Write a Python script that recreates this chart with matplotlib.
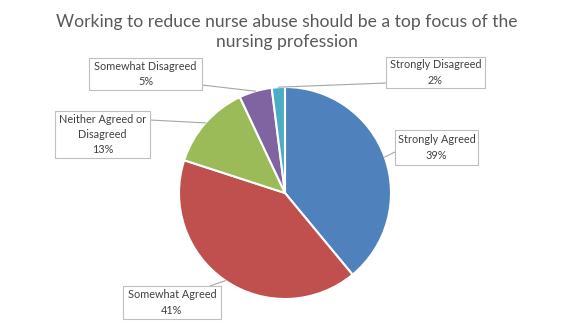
import matplotlib
matplotlib.use("Agg")
import matplotlib.pyplot as plt
from matplotlib.patches import Rectangle
import numpy as np

# ---- data ----
title = "Working to reduce nurse abuse should be a top focus of the\nnursing profession"
categories = ["Strongly Agreed", "Somewhat Agreed", "Neither Agreed or\nDisagreed",
              "Somewhat Disagreed", "Strongly Disagreed"]
values = [39, 41, 13, 5, 2]
colors = ["#4F81BD", "#C0504D", "#9BBB59", "#8064A2", "#4BACC6"]

# ---- layout (pixel coordinates, origin top-left) ----
W, H = 571, 331
cx, cy, R = 285, 193, 106
# boxes: (x0, y0, x1, y1)
boxes = [(395, 130, 478, 165),
         (123, 286, 221, 319),
         (55, 111, 150, 158),
         (89, 58, 202, 90),
         (386, 57, 485, 88)]
# leader start point on box
anchors = [(395, 152), (210, 286), (150, 120), (202, 85), (386, 83)]

plt.rcParams['font.family'] = ['Lato', 'DejaVu Sans']
fig = plt.figure(figsize=(W / 100, H / 100), dpi=100)
ax = fig.add_axes([0, 0, 1, 1])

def Y(y):
    return H - y

wedges, _ = ax.pie(values, colors=colors, startangle=90, counterclock=False,
                   center=(cx, Y(cy)), radius=R,
                   wedgeprops=dict(edgecolor="white", linewidth=1.5))
ax.set_xlim(0, W)
ax.set_ylim(0, H)
ax.set_aspect('auto')
ax.axis('off')

total = sum(values)
start = 90.0
for i, (cat, v) in enumerate(zip(categories, values)):
    span = 360.0 * v / total
    mid = np.deg2rad(start - span / 2)
    start -= span
    px = cx + R * np.cos(mid)
    py = cy - R * np.sin(mid)
    ax0, ay0 = anchors[i]
    ax.plot([ax0, px], [Y(ay0), Y(py)], color="#A6A6A6", lw=0.8, zorder=3)
    x0, y0, x1, y1 = boxes[i]
    ax.add_patch(Rectangle((x0, Y(y1)), x1 - x0, y1 - y0, facecolor="white",
                           edgecolor="#BFBFBF", lw=0.8, zorder=4))
    ax.text((x0 + x1) / 2, Y((y0 + y1) / 2), f"{cat}\n{v}%", ha="center", va="center",
            fontsize=7.8, color="#404040", linespacing=1.45, zorder=5)

ax.text(W / 2 + 1, Y(32), title, ha="center", va="center", fontsize=12.6,
        color="#595959", linespacing=1.32)

fig.savefig("out.png", dpi=100)
